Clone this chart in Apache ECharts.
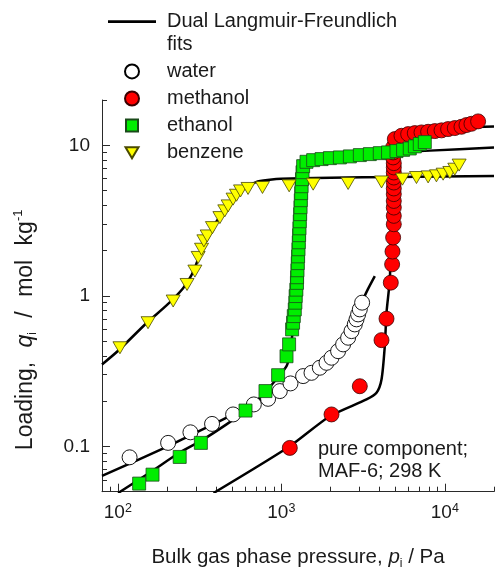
<!DOCTYPE html>
<html><head><meta charset="utf-8">
<script src="https://cdn.jsdelivr.net/npm/echarts@6/dist/echarts.min.js"></script>
<style>html,body{margin:0;padding:0;background:#fff}#c{width:497px;height:569px}</style>
</head><body><div id="c"></div>
<script>
// ---- data: [pressure Pa, loading mol/kg] ----
const water = [[118,0.0846],[203,0.1055],[278,0.124],[377,0.141],[507,0.163],[679,0.190],[830,0.207],[979,0.233],[1138,0.262],[1359,0.293],[1530,0.308],[1720,0.333],[1890,0.359],[2028,0.388],[2225,0.429],[2388,0.476],[2563,0.527],[2688,0.583],[2815,0.646],[2884,0.698],[2950,0.753],[3021,0.813],[3121,0.901]];
const methanol = [[1127,0.0977],[2028,0.163],[3021,0.251],[4101,0.508],[4400,0.705],[4675,1.224],[4762,1.62],[4787,1.97],[4830,2.44],[4876,2.99],[4876,3.40],[4876,3.86],[4876,4.27],[4876,4.74],[4876,5.17],[4876,5.66],[4876,6.11],[4876,6.60],[4876,7.13],[4876,7.61],[4830,8.31],[4830,8.97],[4830,9.68],[4946,11.0],[5433,11.57],[5970,11.87],[6553,12.05],[7203,12.18],[7907,12.30],[8690,12.43],[9550,12.57],[10480,12.82],[11510,13.02],[12650,13.28],[13570,13.63],[14560,13.90],[15990,14.42]];
const ethanol = [[135,0.0566],[163,0.0649],[239,0.0851],[322,0.1055],[604,0.173],[800,0.233],[956,0.297],[1076,0.397],[1116,0.476],[1164,0.599],[1180,0.663],[1192,0.734],[1209,0.813],[1219,0.901],[1224,0.997],[1236,1.10],[1246,1.22],[1249,1.33],[1255,1.48],[1261,1.65],[1267,1.83],[1273,2.04],[1279,2.27],[1285,2.53],[1291,2.81],[1297,3.13],[1304,3.49],[1310,3.88],[1316,4.32],[1323,4.81],[1330,5.35],[1338,5.96],[1348,6.63],[1360,7.27],[1426,7.77],[1566,7.97],[1763,8.1],[1983,8.22],[2282,8.31],[2627,8.44],[3023,8.61],[3479,8.74],[4003,8.87],[4496,8.97],[5066,9.15],[5560,9.33],[6107,9.53],[6560,9.84],[7033,10.2],[7547,10.5]];
const benzene = [[103,0.452],[153,0.663],[218,0.924],[265,1.19],[296,1.46],[310,1.80],[325,2.04],[336,2.32],[352,2.50],[379,2.84],[421,3.31],[451,3.67],[473,3.96],[507,4.39],[532,4.66],[563,4.98],[626,5.17],[767,5.25],[1117,5.38],[1566,5.52],[2563,5.58],[4103,5.71],[5510,5.96],[6711,6.11],[7907,6.17],[8890,6.27],[9770,6.43],[10740,6.60],[11510,6.94],[12240,7.39]];

// Dual Langmuir-Freundlich fit curves
const waterFit = [[80,0.0636],[199,0.0992],[276,0.118],[383,0.140],[507,0.163],[705,0.1965],[979,0.245],[1297,0.291],[1720,0.334],[2124,0.402],[2446,0.483],[2700,0.589],[2937,0.731],[3151,0.933],[3381,1.105],[3732,1.354]];
const methanolFit = [[385,0.049],[1127,0.1002],[1980,0.1585],[3319,0.205],[3822,0.227],[4101,0.278],[4295,0.4634],[4400,0.773],[4610,1.288],[4675,2.38],[4709,4.39],[4742,7.50],[4808,10.2],[5012,11.87],[5535,12.6],[7033,12.9],[12350,13.15],[20000,13.36]];
const ethanolFit = [[100.4,0.049],[157,0.067],[239,0.091],[332,0.111],[462,0.140],[598,0.171],[774,0.221],[952,0.287],[1076,0.341],[1127,0.408],[1159,0.514],[1193,0.698],[1227,0.948],[1253,1.50],[1279,2.38],[1306,3.76],[1335,5.52],[1363,6.95],[1412,7.73],[1537,8.09],[1980,8.41],[4003,8.87],[8096,9.22],[20000,9.68]];
const benzeneFit = [[80,0.35],[100,0.43],[150,0.66],[200,0.87],[250,1.12],[280,1.35],[300,1.6],[330,2.1],[380,2.85],[450,3.7],[520,4.5],[600,5.2],[700,5.7],[850,5.9],[1000,6.0],[2000,6.1],[5000,6.15],[20000,6.25]];

// ---- ticks ----
const xMajorTicks = [100, 1000, 10000];
const xTickExponents = ['2', '3', '4'];
const xMinorTicks = [80,90,200,300,400,500,600,700,800,900,2000,3000,4000,5000,6000,7000,8000,9000,20000];
const yMajorTicks = [0.1, 1, 10];
const yTickLabels = ['0.1', '1', '10'];
const yMinorTicks = [0.05,0.06,0.07,0.08,0.09,0.2,0.3,0.4,0.5,0.6,0.7,0.8,0.9,2,3,4,5,6,7,8,9,20];
const xRange = [80, 20000];
const yRange = [0.05, 20];

const FIT = 'Dual Langmuir-Freundlich\nfits';
const FONT = '"Liberation Sans", Arial, Helvetica, sans-serif';
const TXT = '#1a1a1a';
const AX = '#2a2a2a';
const L10 = (v) => Math.log10(v);

function idxOf(arr, v) {
  for (let i = 0; i < arr.length; i++) if (Math.abs(arr[i] - v) / arr[i] < 1e-6) return i;
  return -1;
}

const chart = echarts.init(document.getElementById('c'), null, {renderer: 'canvas'});
const fitLine = (data) => ({
  type: 'line', name: FIT, data: data, xAxisIndex: 0, yAxisIndex: 0,
  symbol: 'none', smooth: 0.25, silent: true, z: 2,
  lineStyle: {color: '#000', width: 2.5}, itemStyle: {color: '#000'}
});
// invisible helper axes in log10 space that only draw tick marks
const tickAxis = (dim, vals, len) => ({
  type: 'value', gridIndex: 0,
  position: dim === 'x' ? 'bottom' : 'left',
  min: L10((dim === 'x' ? xRange : yRange)[0]), max: L10((dim === 'x' ? xRange : yRange)[1]),
  axisLine: {show: false, onZero: false},
  axisTick: {show: true, inside: true, length: len, customValues: vals.map(L10), lineStyle: {color: AX, width: 1}},
  axisLabel: {show: false}, splitLine: {show: false}, silent: true
});
const titleRich = (fs) => ({
  t: {fontSize: fs, lineHeight: fs + 4, color: TXT, fontFamily: FONT},
  g: {fontSize: fs, lineHeight: fs + 4, color: TXT, fontFamily: FONT, padding: [0, 4, 0, 4]},
  it: {fontSize: fs, lineHeight: fs + 4, fontStyle: 'italic', color: TXT, fontFamily: FONT},
  sb: {fontSize: 12, lineHeight: 14, verticalAlign: 'bottom', color: TXT, fontFamily: FONT},
  sp: {fontSize: 13, lineHeight: 14, verticalAlign: 'top', color: TXT, fontFamily: FONT}
});

chart.setOption({
  animation: false,
  textStyle: {fontFamily: FONT, color: TXT},
  grid: {left: 102, right: 3, top: 100, bottom: 77.3, containLabel: false, outerBoundsMode: 'none'},
  legend: {
    orient: 'vertical', left: 108, top: -12.2, padding: 0,
    itemWidth: 48, itemHeight: 14, itemGap: 4.5,
    formatter: (name) => name === FIT ? '\n' + name : name,
    textStyle: {fontSize: 20, lineHeight: 22.6, color: TXT, padding: [0, 0, 0, 6], fontFamily: FONT},
    data: [
      {name: FIT, icon: 'path://M0,0M0,5.6L48,5.6L48,8.4L0,8.4ZM48,14', itemStyle: {color: '#000', borderWidth: 0}},
      'water', 'methanol',
      {name: 'ethanol', icon: 'path://M0,0M1,1L13,1L13,13L1,13ZM14,14'},
      {name: 'benzene', icon: 'path://M0,0M0.5,1.5L13.5,1.5L7,12.5ZM14,14'}
    ]
  },
  xAxis: [{
    type: 'log', min: xRange[0], max: xRange[1], position: 'bottom',
    name: '{t|Bulk gas phase pressure, }{it|p}{sb|i}{t| / Pa}',
    nameLocation: 'middle', nameGap: 53,
    nameTextStyle: {rich: titleRich(20.5)},
    axisLine: {show: true, onZero: false, lineStyle: {color: AX, width: 1}},
    axisTick: {show: false},
    axisLabel: {
      customValues: xMajorTicks, margin: 10,
      formatter: (v) => { const i = idxOf(xMajorTicks, v); return i < 0 ? '' : '{b|10}{s|' + xTickExponents[i] + '}'; },
      rich: {
        b: {fontSize: 19, lineHeight: 22, color: TXT, fontFamily: FONT},
        s: {fontSize: 12.5, lineHeight: 14, verticalAlign: 'top', color: TXT, fontFamily: FONT}
      }
    },
    splitLine: {show: false}
  }, tickAxis('x', xMajorTicks, 8), tickAxis('x', xMinorTicks, 5)],
  yAxis: [{
    type: 'log', min: yRange[0], max: yRange[1], position: 'left',
    name: '{t|Loading,}{g| }{it|q}{sb|i}{g| }{t|/}{g| }{t|mol}{g| }{t|kg}{sp|-1}',
    nameLocation: 'middle', nameGap: 63, nameRotate: 90,
    nameTextStyle: {padding: [0, 68, 0, 0], rich: titleRich(23)},
    axisLine: {show: true, onZero: false, lineStyle: {color: AX, width: 1}},
    axisTick: {show: false},
    axisLabel: {
      customValues: yMajorTicks, margin: 12, fontSize: 19, color: TXT, fontFamily: FONT,
      formatter: (v) => { const i = idxOf(yMajorTicks, v); return i < 0 ? '' : yTickLabels[i]; }
    },
    splitLine: {show: false}
  }, tickAxis('y', yMajorTicks, 8), tickAxis('y', yMinorTicks, 5)],
  graphic: [{
    type: 'text', left: 318, top: 438.5, silent: true,
    style: {text: 'pure component;\nMAF-6; 298 K', fontSize: 20, lineHeight: 22, fill: TXT, fontFamily: FONT}
  }],
  series: [
    fitLine(waterFit), fitLine(methanolFit), fitLine(ethanolFit), fitLine(benzeneFit),
    {type: 'scatter', name: 'water', data: water, symbol: 'circle', symbolSize: 15, z: 3,
     itemStyle: {color: '#ffffff', borderColor: '#000', borderWidth: 0.9, opacity: 1}},
    {type: 'scatter', name: 'methanol', data: methanol, symbol: 'circle', symbolSize: 15, z: 3,
     itemStyle: {color: '#ff0000', borderColor: '#3a0000', borderWidth: 0.8, opacity: 1}},
    {type: 'scatter', name: 'ethanol', data: ethanol, symbol: 'rect', symbolSize: 13, z: 3,
     itemStyle: {color: '#00ee00', borderColor: '#1a4a1a', borderWidth: 0.8, opacity: 1}},
    {type: 'scatter', name: 'benzene', data: benzene, symbol: 'path://M0,0L2,0L1,1.7Z', symbolSize: [14, 12], symbolKeepAspect: false, z: 3,
     itemStyle: {color: '#ffff00', borderColor: '#4a4a00', borderWidth: 0.8, opacity: 1}}
  ]
});
</script></body></html>
